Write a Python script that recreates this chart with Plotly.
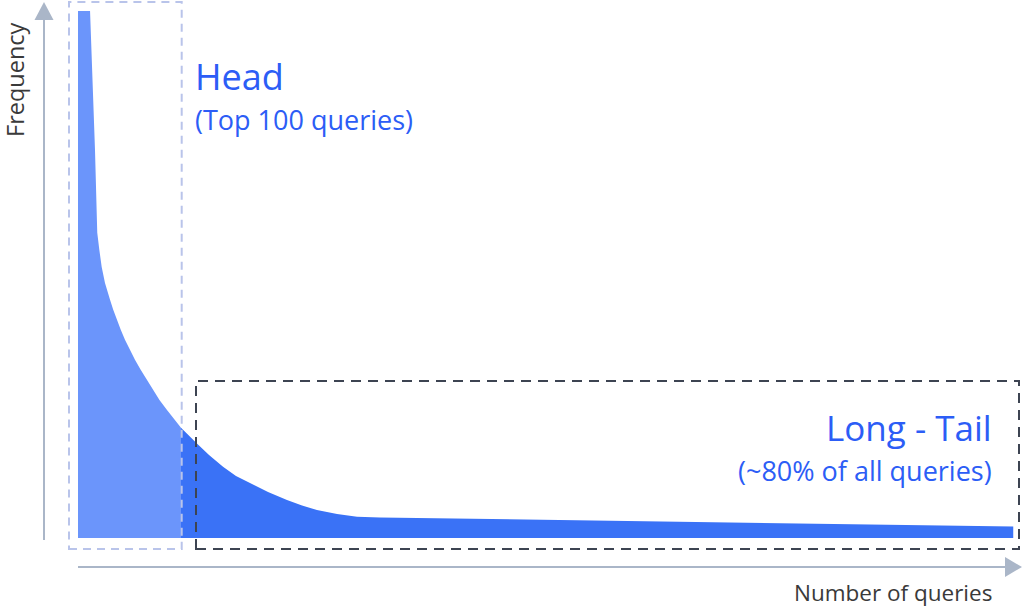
import plotly.graph_objects as go

# ---- data (query rank vs. frequency) ----
rank = [0, 11.7, 16.5, 17.5, 18.7, 20.7, 23.0, 26.2, 28.5, 31.1, 34.2, 37.6, 41.5, 45.6, 50.3,
        55.3, 61.0, 67.0, 72.8, 79.1, 86.4, 94.2, 100,
        107.8, 115.2, 127.2, 140.8, 153.4, 167.0, 184.5, 202.9, 217.5, 232.0, 251.5, 270.9, 293.2, 908]
freq = [100, 100, 73.6, 64.1, 57.9, 54.7, 51.4, 48.4, 46.7, 45.2, 43.3, 41.4, 39.5, 37.6, 35.7,
        33.8, 31.9, 30.0, 28.1, 26.2, 24.3, 22.4, 20.9,
        19.35, 18.0, 15.75, 13.5, 11.76, 10.44, 8.73, 7.21, 6.17, 5.31, 4.55, 4.04, 3.89, 2.18]
head_limit = 100

head_x = [r for r in rank if r <= head_limit]
head_y = [f for r, f in zip(rank, freq) if r <= head_limit]
tail_x = [r for r in rank if r >= head_limit]
tail_y = [f for r, f in zip(rank, freq) if r >= head_limit]

# ---- layout helpers: map page pixels to data units ----
W, H = 1024, 608
X0, XS = 78, 1.03      # pixel of rank 0, pixels per rank unit
Y0, YS = 538, 5.27     # pixel of freq 0, pixels per freq unit
def dx(px): return (px - X0) / XS
def dy(py): return (Y0 - py) / YS

LIGHT = "#6b95fb"
DARK = "#3a72f6"
TXT_BLUE = "#2c5df6"
AXIS = "#aab6c8"
LABEL = "#3a3a3a"
FONT = "Open Sans"

fig = go.Figure()
fig.add_trace(go.Scatter(x=head_x, y=head_y, mode="lines", line=dict(width=0),
                         fill="tozeroy", fillcolor=LIGHT, hoverinfo="skip"))
fig.add_trace(go.Scatter(x=tail_x, y=tail_y, mode="lines", line=dict(width=0),
                         fill="tozeroy", fillcolor=DARK, hoverinfo="skip"))

shapes = []
# head box
shapes.append(dict(type="rect", x0=dx(69), x1=head_limit + dx(X0 + 0.7), y0=dy(549), y1=dy(2),
                   line=dict(color="#b9c4ea", width=2, dash="8px,6px"), layer="above"))
# long-tail box
shapes.append(dict(type="rect", x0=dx(196), x1=dx(1019), y0=dy(549), y1=dy(381),
                   line=dict(color="#3d4452", width=2, dash="10px,7px"), layer="above"))
# y axis arrow
shapes.append(dict(type="line", x0=dx(44), x1=dx(44), y0=dy(540), y1=dy(19),
                   line=dict(color=AXIS, width=2)))
shapes.append(dict(type="path",
                   path=f"M {dx(34.5)} {dy(20)} L {dx(53.5)} {dy(20)} L {dx(44)} {dy(2)} Z",
                   fillcolor=AXIS, line=dict(width=0)))
# x axis arrow
shapes.append(dict(type="line", x0=dx(78), x1=dx(1006), y0=dy(567), y1=dy(567),
                   line=dict(color=AXIS, width=2)))
shapes.append(dict(type="path",
                   path=f"M {dx(1005)} {dy(557)} L {dx(1005)} {dy(577)} L {dx(1022)} {dy(567)} Z",
                   fillcolor=AXIS, line=dict(width=0)))

annotations = [
    dict(x=dx(193), y=dy(76), text="Head", showarrow=False, xanchor="left", yanchor="middle",
         font=dict(family=FONT, size=36, color=TXT_BLUE)),
    dict(x=dx(193), y=dy(119), text="(Top 100 queries)", showarrow=False, xanchor="left", yanchor="middle",
         font=dict(family=FONT, size=27, color=TXT_BLUE)),
    dict(x=dx(994), y=dy(427), text="Long - Tail", showarrow=False, xanchor="right", yanchor="middle",
         font=dict(family=FONT, size=35, color=TXT_BLUE)),
    dict(x=dx(994), y=dy(470), text="(~80% of all queries)", showarrow=False, xanchor="right", yanchor="middle",
         font=dict(family=FONT, size=27, color=TXT_BLUE)),
    dict(x=dx(15), y=dy(80), text="Frequency", showarrow=False, textangle=-90,
         xanchor="center", yanchor="middle", font=dict(family=FONT, size=23.5, color=LABEL)),
    dict(x=dx(994), y=dy(592), text="Number of queries", showarrow=False, xanchor="right",
         yanchor="middle", font=dict(family=FONT, size=22.5, color=LABEL)),
]

fig.update_layout(
    width=W, height=H, margin=dict(l=0, r=0, t=0, b=0),
    paper_bgcolor="white", plot_bgcolor="white", showlegend=False,
    xaxis=dict(range=[dx(0), dx(W)], visible=False, fixedrange=True),
    yaxis=dict(range=[dy(H), dy(0)], visible=False, fixedrange=True),
    shapes=shapes, annotations=annotations,
)

fig.write_html("out.html", config={"displayModeBar": False},
               post_script="document.body.style.margin='0';document.body.style.overflow='hidden';")
